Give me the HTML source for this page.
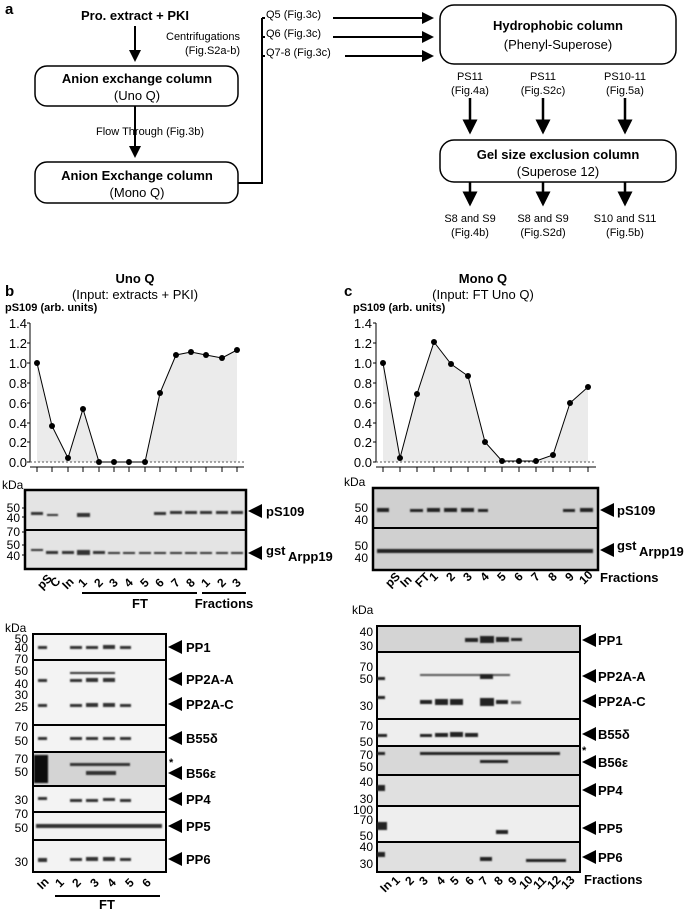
<!DOCTYPE html>
<html><head><meta charset="utf-8"><style>
body{margin:0;background:#fff}
svg{display:block;font-family:"Liberation Sans",sans-serif}
.b{font-weight:bold}
</style></head><body>
<svg width="685" height="910" viewBox="0 0 685 910" xmlns="http://www.w3.org/2000/svg">
<defs><marker id="ah" markerWidth="6" markerHeight="6" refX="5" refY="3" orient="auto" markerUnits="strokeWidth"><path d="M0,0 L6,3 L0,6 z" fill="#000"/></marker>
<filter id="bl"><feGaussianBlur stdDeviation="0.9"/></filter></defs>
<g font-size="12" text-anchor="middle">
<text x="5" y="14" class="b" font-size="15" text-anchor="start">a</text>
<text x="135" y="20" class="b" font-size="13">Pro. extract + PKI</text>
<line x1="135" y1="26" x2="135" y2="60" stroke="#000" stroke-width="2" marker-end="url(#ah)"/>
<text x="240" y="40" font-size="11" text-anchor="end">Centrifugations</text>
<text x="240" y="54" font-size="11" text-anchor="end">(Fig.S2a-b)</text>
<rect x="35" y="66" width="203" height="40" rx="12" fill="#fff" stroke="#000" stroke-width="1.5"/>
<text x="137" y="83" class="b" font-size="13">Anion exchange column</text>
<text x="137" y="100" font-size="13">(Uno Q)</text>
<text x="150" y="135" font-size="11">Flow Through (Fig.3b)</text>
<line x1="135" y1="106" x2="135" y2="156" stroke="#000" stroke-width="2" marker-end="url(#ah)"/>
<rect x="35" y="162" width="203" height="41" rx="12" fill="#fff" stroke="#000" stroke-width="1.5"/>
<text x="137" y="180" class="b" font-size="13">Anion Exchange column</text>
<text x="137" y="197" font-size="13">(Mono Q)</text>
<polyline points="238,183 262,183 262,18" fill="none" stroke="#000" stroke-width="2"/>
<line x1="262" y1="18" x2="432" y2="18" stroke="#000" stroke-width="2" marker-end="url(#ah)"/>
<line x1="262" y1="37" x2="432" y2="37" stroke="#000" stroke-width="2" marker-end="url(#ah)"/>
<line x1="262" y1="56" x2="432" y2="56" stroke="#000" stroke-width="2" marker-end="url(#ah)"/>
<rect x="265" y="8" width="68" height="12" fill="#fff"/><rect x="265" y="27" width="68" height="12" fill="#fff"/><rect x="265" y="46" width="80" height="12" fill="#fff"/>
<text x="266" y="18" font-size="11" text-anchor="start">Q5 (Fig.3c)</text>
<text x="266" y="37" font-size="11" text-anchor="start">Q6 (Fig.3c)</text>
<text x="266" y="56" font-size="11" text-anchor="start">Q7-8 (Fig.3c)</text>
<rect x="440" y="5" width="236" height="59" rx="14" fill="#fff" stroke="#000" stroke-width="1.5"/>
<text x="558" y="30" class="b" font-size="13">Hydrophobic column</text>
<text x="558" y="49" font-size="13">(Phenyl-Superose)</text>
<text x="470" y="80" font-size="11">PS11</text><text x="470" y="94" font-size="11">(Fig.4a)</text>
<text x="543" y="80" font-size="11">PS11</text><text x="543" y="94" font-size="11">(Fig.S2c)</text>
<text x="625" y="80" font-size="11">PS10-11</text><text x="625" y="94" font-size="11">(Fig.5a)</text>
<line x1="470" y1="98" x2="470" y2="132" stroke="#000" stroke-width="2.5" marker-end="url(#ah)"/>
<line x1="543" y1="98" x2="543" y2="132" stroke="#000" stroke-width="2.5" marker-end="url(#ah)"/>
<line x1="625" y1="98" x2="625" y2="132" stroke="#000" stroke-width="2.5" marker-end="url(#ah)"/>
<rect x="440" y="140" width="236" height="42" rx="14" fill="#fff" stroke="#000" stroke-width="1.5"/>
<text x="558" y="159" class="b" font-size="13">Gel size exclusion column</text>
<text x="558" y="176" font-size="13">(Superose 12)</text>
<line x1="470" y1="182" x2="470" y2="204" stroke="#000" stroke-width="2.5" marker-end="url(#ah)"/>
<line x1="543" y1="182" x2="543" y2="204" stroke="#000" stroke-width="2.5" marker-end="url(#ah)"/>
<line x1="625" y1="182" x2="625" y2="204" stroke="#000" stroke-width="2.5" marker-end="url(#ah)"/>
<text x="470" y="222" font-size="11">S8 and S9</text><text x="470" y="236" font-size="11">(Fig.4b)</text>
<text x="543" y="222" font-size="11">S8 and S9</text><text x="543" y="236" font-size="11">(Fig.S2d)</text>
<text x="625" y="222" font-size="11">S10 and S11</text><text x="625" y="236" font-size="11">(Fig.5b)</text>
</g>

<!-- Panel b -->
<g font-size="13">
<text x="5" y="296" class="b" font-size="15">b</text>
<text x="135" y="283" class="b" text-anchor="middle">Uno Q</text>
<text x="135" y="299" text-anchor="middle">(Input: extracts + PKI)</text>
<text x="5" y="311" class="b" font-size="11">pS109 (arb. units)</text>
<g text-anchor="end" font-size="13">
<text x="27" y="328">1.4</text><text x="27" y="348">1.2</text><text x="27" y="368">1.0</text><text x="27" y="388">0.8</text><text x="27" y="408">0.6</text><text x="27" y="428">0.4</text><text x="27" y="447">0.2</text><text x="27" y="467">0.0</text>
</g>
<g stroke="#000"><line x1="30" y1="323" x2="30" y2="462"/>
<line x1="27" y1="323" x2="30" y2="323"/><line x1="27" y1="343" x2="30" y2="343"/><line x1="27" y1="363" x2="30" y2="363"/><line x1="27" y1="383" x2="30" y2="383"/><line x1="27" y1="403" x2="30" y2="403"/><line x1="27" y1="423" x2="30" y2="423"/><line x1="27" y1="442" x2="30" y2="442"/><line x1="27" y1="462" x2="30" y2="462"/></g>
<polygon points="37,462 37,363 52,426 68,458 83,409 99,462 114,462 129,462 145,462 160,393 176,355 191,352 206,355 222,358 237,350 237,462" fill="#ebebeb"/>
<line x1="30" y1="462" x2="244" y2="462" stroke="#555" stroke-dasharray="2,2"/>
<polyline points="37,363 52,426 68,458 83,409 99,462 114,462 129,462 145,462 160,393 176,355 191,352 206,355 222,358 237,350" fill="none" stroke="#000"/>
<g fill="#000"><circle cx="37" cy="363" r="3"/><circle cx="52" cy="426" r="3"/><circle cx="68" cy="458" r="3"/><circle cx="83" cy="409" r="3"/><circle cx="99" cy="462" r="3"/><circle cx="114" cy="462" r="3"/><circle cx="129" cy="462" r="3"/><circle cx="145" cy="462" r="3"/><circle cx="160" cy="393" r="3"/><circle cx="176" cy="355" r="3"/><circle cx="191" cy="352" r="3"/><circle cx="206" cy="355" r="3"/><circle cx="222" cy="358" r="3"/><circle cx="237" cy="350" r="3"/></g>
<path d="M30,467H244 M37,467v5 M52,467v5 M68,467v5 M83,467v5 M99,467v5 M114,467v5 M129,467v5 M145,467v5 M160,467v5 M176,467v5 M191,467v5 M206,467v5 M222,467v5 M237,467v5" stroke="#000" fill="none"/>
<text x="2" y="489" font-size="12">kDa</text>
<rect x="25" y="490" width="221" height="79" fill="#e4e4e4" stroke="#000" stroke-width="2.5"/>
<line x1="25" y1="530" x2="246" y2="530" stroke="#000" stroke-width="2"/>
<g fill="#333" filter="url(#bl)">
<rect x="31" y="512" width="12" height="3"/><rect x="47" y="514" width="11" height="2"/><rect x="77" y="513" width="13" height="4"/>
<rect x="154" y="512" width="12" height="3"/><rect x="170" y="511" width="12" height="3"/><rect x="185" y="511" width="12" height="3"/><rect x="200" y="511" width="12" height="3"/><rect x="216" y="511" width="12" height="3"/><rect x="231" y="511" width="12" height="3"/>
<rect x="31" y="549" width="12" height="2"/><rect x="46" y="551" width="12" height="3"/><rect x="62" y="551" width="12" height="3"/><rect x="77" y="550" width="13" height="5"/><rect x="93" y="551" width="12" height="3"/>
<rect x="108" y="552" width="12" height="2"/><rect x="123" y="552" width="12" height="2"/><rect x="139" y="552" width="12" height="2"/><rect x="154" y="552" width="12" height="2"/><rect x="170" y="552" width="12" height="2"/><rect x="185" y="552" width="12" height="2"/><rect x="200" y="552" width="12" height="2"/><rect x="216" y="552" width="12" height="2"/><rect x="231" y="552" width="12" height="2"/>
</g>
<g text-anchor="end" font-size="12"><text x="20" y="512">50</text><text x="20" y="522">40</text><text x="20" y="536">70</text><text x="20" y="549">50</text><text x="20" y="560">40</text></g>
<path d="M22,508h4M22,517h4M22,532h4M22,545h4M22,555h4" stroke="#000"/>
<polygon points="248,511 262,504 262,518" fill="#000"/><text x="266" y="516" class="b">pS109</text>
<polygon points="248,553 262,546 262,560" fill="#000"/><text x="266" y="555" class="b">gst</text><text x="288" y="561" class="b">Arpp19</text>
<g class="b" font-size="12">
<text transform="translate(42,590) rotate(-45)">pS</text><text transform="translate(55,588) rotate(-45)">C</text><text transform="translate(67,590) rotate(-45)">In</text>
<text transform="translate(83,588) rotate(-45)">1</text><text transform="translate(99,588) rotate(-45)">2</text><text transform="translate(114,588) rotate(-45)">3</text><text transform="translate(129,588) rotate(-45)">4</text><text transform="translate(145,588) rotate(-45)">5</text><text transform="translate(160,588) rotate(-45)">6</text><text transform="translate(176,588) rotate(-45)">7</text><text transform="translate(191,588) rotate(-45)">8</text><text transform="translate(206,588) rotate(-45)">1</text><text transform="translate(222,588) rotate(-45)">2</text><text transform="translate(237,588) rotate(-45)">3</text>
</g>
<path d="M82,593H197M202,593H246" stroke="#000" stroke-width="2"/>
<text x="140" y="608" class="b" text-anchor="middle">FT</text><text x="224" y="608" class="b" text-anchor="middle">Fractions</text>

<!-- lower b -->
<text x="5" y="632" font-size="12">kDa</text>
<g stroke="#000" stroke-width="2" fill="#f3f3f3">
<rect x="33" y="634" width="133" height="26"/><rect x="33" y="660" width="133" height="65"/><rect x="33" y="725" width="133" height="27"/><rect x="33" y="752" width="133" height="34" fill="#d4d4d4"/><rect x="33" y="786" width="133" height="26"/><rect x="33" y="812" width="133" height="28"/><rect x="33" y="840" width="133" height="32"/>
</g>
<g fill="#333" filter="url(#bl)">
<rect x="38" y="646" width="9" height="3"/><rect x="70" y="646" width="12" height="3"/><rect x="86" y="646" width="12" height="3"/><rect x="103" y="645" width="12" height="4"/><rect x="120" y="646" width="11" height="3"/>
<rect x="38" y="679" width="9" height="3"/><rect x="70" y="679" width="12" height="3"/><rect x="86" y="678" width="12" height="4"/><rect x="103" y="678" width="12" height="4"/><rect x="70" y="672" width="45" height="2"/>
<rect x="38" y="704" width="9" height="3"/><rect x="70" y="704" width="12" height="3"/><rect x="86" y="703" width="12" height="4"/><rect x="103" y="703" width="12" height="4"/><rect x="120" y="704" width="11" height="3"/>
<rect x="38" y="737" width="9" height="3"/><rect x="70" y="737" width="12" height="3"/><rect x="86" y="737" width="12" height="3"/><rect x="103" y="737" width="12" height="3"/><rect x="120" y="737" width="11" height="3"/>
<rect x="34" y="755" width="14" height="28" fill="#111"/><rect x="70" y="763" width="60" height="3"/><rect x="86" y="771" width="30" height="4"/>
<rect x="38" y="797" width="9" height="3"/><rect x="70" y="799" width="12" height="3"/><rect x="86" y="799" width="12" height="3"/><rect x="103" y="798" width="12" height="3"/><rect x="120" y="799" width="11" height="3"/>
<rect x="36" y="824" width="126" height="4"/>
<rect x="38" y="858" width="9" height="4"/><rect x="70" y="858" width="12" height="3"/><rect x="86" y="857" width="12" height="4"/><rect x="103" y="857" width="12" height="4"/><rect x="120" y="858" width="11" height="3"/>
</g>
<g text-anchor="end" font-size="12">
<text x="28" y="643">50</text><text x="28" y="652">40</text><text x="28" y="663">70</text><text x="28" y="675">50</text><text x="28" y="688">40</text><text x="28" y="699">30</text><text x="28" y="711">25</text><text x="28" y="731">70</text><text x="28" y="745">50</text><text x="28" y="763">70</text><text x="28" y="776">50</text><text x="28" y="804">30</text><text x="28" y="818">70</text><text x="28" y="832">50</text><text x="28" y="866">30</text>
</g>
<g class="b" font-size="13">
<polygon points="168,647 182,640 182,654"/><text x="186" y="652">PP1</text>
<polygon points="168,679 182,672 182,686"/><text x="186" y="684">PP2A-A</text>
<polygon points="168,704 182,697 182,711"/><text x="186" y="709">PP2A-C</text>
<polygon points="168,738 182,731 182,745"/><text x="186" y="743">B55δ</text>
<text x="169" y="766" font-size="11">*</text>
<polygon points="168,773 182,766 182,780"/><text x="186" y="778">B56ε</text>
<polygon points="168,799 182,792 182,806"/><text x="186" y="804">PP4</text>
<polygon points="168,826 182,819 182,833"/><text x="186" y="831">PP5</text>
<polygon points="168,859 182,852 182,866"/><text x="186" y="864">PP6</text>
</g>
<g class="b" font-size="12">
<text transform="translate(42,890) rotate(-45)">In</text><text transform="translate(60,888) rotate(-45)">1</text><text transform="translate(77,888) rotate(-45)">2</text><text transform="translate(95,888) rotate(-45)">3</text><text transform="translate(112,888) rotate(-45)">4</text><text transform="translate(130,888) rotate(-45)">5</text><text transform="translate(147,888) rotate(-45)">6</text>
</g>
<path d="M55,896H160" stroke="#000" stroke-width="2"/>
<text x="107" y="909" class="b" text-anchor="middle">FT</text>
</g>

<!-- Panel c -->
<g font-size="13">
<text x="344" y="296" class="b" font-size="15">c</text>
<text x="483" y="283" class="b" text-anchor="middle">Mono Q</text>
<text x="483" y="299" text-anchor="middle">(Input: FT Uno Q)</text>
<text x="353" y="311" class="b" font-size="11">pS109 (arb. units)</text>
<g text-anchor="end"><text x="372" y="328">1.4</text><text x="372" y="348">1.2</text><text x="372" y="368">1.0</text><text x="372" y="388">0.8</text><text x="372" y="408">0.6</text><text x="372" y="428">0.4</text><text x="372" y="447">0.2</text><text x="372" y="467">0.0</text></g>
<g stroke="#000"><line x1="376" y1="323" x2="376" y2="462"/>
<path d="M373,323h3M373,343h3M373,363h3M373,383h3M373,403h3M373,423h3M373,442h3M373,462h3"/></g>
<polygon points="383,462 383,363 400,458 417,394 434,342 451,364 468,376 485,442 502,461 519,461 536,461 553,455 570,403 588,387 588,462" fill="#ebebeb"/>
<line x1="376" y1="462" x2="596" y2="462" stroke="#555" stroke-dasharray="2,2"/>
<polyline points="383,363 400,458 417,394 434,342 451,364 468,376 485,442 502,461 519,461 536,461 553,455 570,403 588,387" fill="none" stroke="#000"/>
<g><circle cx="383" cy="363" r="3"/><circle cx="400" cy="458" r="3"/><circle cx="417" cy="394" r="3"/><circle cx="434" cy="342" r="3"/><circle cx="451" cy="364" r="3"/><circle cx="468" cy="376" r="3"/><circle cx="485" cy="442" r="3"/><circle cx="502" cy="461" r="3"/><circle cx="519" cy="461" r="3"/><circle cx="536" cy="461" r="3"/><circle cx="553" cy="455" r="3"/><circle cx="570" cy="403" r="3"/><circle cx="588" cy="387" r="3"/></g>
<path d="M376,467H596 M383,467v5 M400,467v5 M417,467v5 M434,467v5 M451,467v5 M468,467v5 M485,467v5 M502,467v5 M519,467v5 M536,467v5 M553,467v5 M570,467v5 M588,467v5" stroke="#000" fill="none"/>
<text x="344" y="486" font-size="12">kDa</text>
<rect x="373" y="488" width="225" height="82" fill="#d0d0d0" stroke="#000" stroke-width="2.5"/>
<line x1="373" y1="528" x2="598" y2="528" stroke="#000" stroke-width="2"/>
<g fill="#222" filter="url(#bl)">
<rect x="377" y="508" width="12" height="4"/><rect x="410" y="509" width="13" height="3"/><rect x="427" y="508" width="13" height="4"/><rect x="444" y="508" width="13" height="4"/><rect x="461" y="508" width="13" height="4"/><rect x="478" y="509" width="10" height="3"/><rect x="563" y="509" width="12" height="3"/><rect x="580" y="508" width="13" height="4"/>
<rect x="377" y="549" width="216" height="4"/>
</g>
<g text-anchor="end" font-size="12"><text x="368" y="512">50</text><text x="368" y="524">40</text><text x="368" y="550">50</text><text x="368" y="562">40</text></g>
<g class="b">
<polygon points="600,510 614,503 614,517"/><text x="617" y="515">pS109</text>
<polygon points="600,550 614,543 614,557"/><text x="617" y="550">gst</text><text x="639" y="556">Arpp19</text>
</g>
<g class="b" font-size="12">
<text transform="translate(390,588) rotate(-45)">pS</text><text transform="translate(405,588) rotate(-45)">In</text><text transform="translate(420,588) rotate(-45)">FT</text>
<text transform="translate(434,582) rotate(-45)">1</text><text transform="translate(451,582) rotate(-45)">2</text><text transform="translate(468,582) rotate(-45)">3</text><text transform="translate(485,582) rotate(-45)">4</text><text transform="translate(502,582) rotate(-45)">5</text><text transform="translate(519,582) rotate(-45)">6</text><text transform="translate(536,582) rotate(-45)">7</text><text transform="translate(553,582) rotate(-45)">8</text><text transform="translate(570,582) rotate(-45)">9</text><text transform="translate(584,585) rotate(-45)">10</text>
<text x="600" y="582" font-size="13">Fractions</text>
</g>

<!-- lower c -->
<text x="352" y="614" font-size="12">kDa</text>
<g stroke="#000" stroke-width="2" fill="#e0e0e0">
<rect x="377" y="626" width="203" height="26" fill="#d4d4d4"/><rect x="377" y="652" width="203" height="67" fill="#eeeeee"/><rect x="377" y="719" width="203" height="27" fill="#eeeeee"/><rect x="377" y="746" width="203" height="29" fill="#d8d8d8"/><rect x="377" y="775" width="203" height="31"/><rect x="377" y="806" width="203" height="36" fill="#eeeeee"/><rect x="377" y="842" width="203" height="30"/>
</g>
<g fill="#222" filter="url(#bl)">
<rect x="465" y="638" width="13" height="4"/><rect x="480" y="636" width="14" height="7"/><rect x="496" y="637" width="13" height="5"/><rect x="511" y="638" width="11" height="3"/>
<rect x="377" y="677" width="8" height="3"/><rect x="420" y="674" width="90" height="2" fill="#555"/><rect x="480" y="674" width="13" height="5"/>
<rect x="377" y="696" width="8" height="3"/><rect x="420" y="700" width="12" height="4"/><rect x="435" y="699" width="13" height="6"/><rect x="450" y="699" width="13" height="6"/><rect x="480" y="698" width="14" height="8"/><rect x="496" y="700" width="12" height="4"/><rect x="511" y="701" width="10" height="3" fill="#666"/>
<rect x="377" y="734" width="10" height="3"/><rect x="420" y="734" width="12" height="3"/><rect x="435" y="733" width="13" height="4"/><rect x="450" y="732" width="13" height="5"/><rect x="465" y="733" width="13" height="4"/>
<rect x="377" y="752" width="8" height="3"/><rect x="420" y="752" width="140" height="3"/><rect x="480" y="760" width="28" height="3"/>
<rect x="377" y="785" width="8" height="6"/><rect x="377" y="822" width="10" height="8"/><rect x="496" y="830" width="12" height="4"/>
<rect x="377" y="852" width="8" height="5"/><rect x="480" y="857" width="12" height="4"/><rect x="526" y="859" width="40" height="3"/>
</g>
<g text-anchor="end" font-size="12">
<text x="373" y="636">40</text><text x="373" y="650">30</text><text x="373" y="671">70</text><text x="373" y="683">50</text><text x="373" y="710">30</text><text x="373" y="730">70</text><text x="373" y="746">50</text><text x="373" y="759">70</text><text x="373" y="771">50</text><text x="373" y="786">40</text><text x="373" y="803">30</text><text x="373" y="814">100</text><text x="373" y="824">70</text><text x="373" y="840">50</text><text x="373" y="851">40</text><text x="373" y="868">30</text>
</g>
<g class="b" font-size="13">
<polygon points="582,640 596,633 596,647"/><text x="598" y="645">PP1</text>
<polygon points="582,676 596,669 596,683"/><text x="598" y="681">PP2A-A</text>
<polygon points="582,701 596,694 596,708"/><text x="598" y="706">PP2A-C</text>
<polygon points="582,734 596,727 596,741"/><text x="598" y="739">B55δ</text>
<text x="582" y="754" font-size="11">*</text>
<polygon points="582,762 596,755 596,769"/><text x="598" y="767">B56ε</text>
<polygon points="582,790 596,783 596,797"/><text x="598" y="795">PP4</text>
<polygon points="582,828 596,821 596,835"/><text x="598" y="833">PP5</text>
<polygon points="582,857 596,850 596,864"/><text x="598" y="862">PP6</text>
</g>
<g class="b" font-size="12">
<text transform="translate(385,893) rotate(-45)">In</text><text transform="translate(396,886) rotate(-45)">1</text><text transform="translate(410,886) rotate(-45)">2</text><text transform="translate(424,886) rotate(-45)">3</text><text transform="translate(441,886) rotate(-45)">4</text><text transform="translate(455,886) rotate(-45)">5</text><text transform="translate(470,886) rotate(-45)">6</text><text transform="translate(484,886) rotate(-45)">7</text><text transform="translate(499,886) rotate(-45)">8</text><text transform="translate(513,886) rotate(-45)">9</text><text transform="translate(524,890) rotate(-45)">10</text><text transform="translate(538,890) rotate(-45)">11</text><text transform="translate(552,890) rotate(-45)">12</text><text transform="translate(566,890) rotate(-45)">13</text>
<text x="584" y="884" font-size="13">Fractions</text>
</g>
</g>
</svg>
</body></html>
